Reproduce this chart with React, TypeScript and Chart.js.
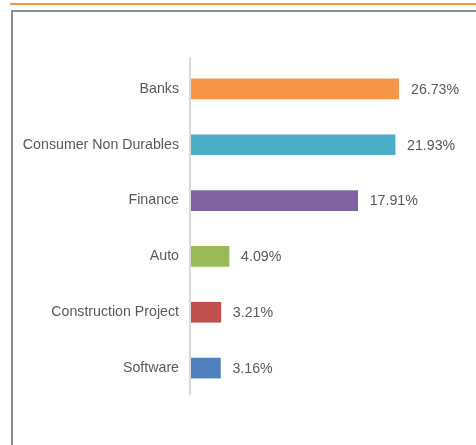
import React, { useEffect, useRef } from "react";
import { Chart, registerables } from "chart.js";

Chart.register(...registerables);

const categories = [
  "Banks",
  "Consumer Non Durables",
  "Finance",
  "Auto",
  "Construction Project",
  "Software",
];
const values = [26.73, 21.93, 17.91, 4.09, 3.21, 3.16];
const valueLabels = ["26.73%", "21.93%", "17.91%", "4.09%", "3.21%", "3.16%"];
const barColors = ["#F79646", "#4BACC6", "#8064A2", "#9BBB59", "#C0504D", "#4F81BD"];
const axisMax = 22.35;

const FONT = "'Liberation Sans', Arial, sans-serif";
const TEXT = "#595959";
const FONT_SIZE = 14.2;

const labelPlugin = {
  id: "valueLabels",
  afterDatasetsDraw(chart: any) {
    const { ctx, chartArea } = chart;
    const meta = chart.getDatasetMeta(0);
    ctx.save();
    ctx.font = `${FONT_SIZE}px ${FONT}`;
    ctx.fillStyle = TEXT;
    ctx.textAlign = "left";
    ctx.textBaseline = "middle";
    meta.data.forEach((bar: any, i: number) => {
      const x = Math.min(bar.x, chartArea.right) + 12;
      ctx.fillText(valueLabels[i], x, bar.y + 1);
    });
    ctx.restore();
  },
};

const axisLinePlugin = {
  id: "axisLine",
  beforeDatasetsDraw(chart: any) {
    const { ctx, chartArea } = chart;
    ctx.save();
    ctx.strokeStyle = "#D9D9D9";
    ctx.lineWidth = 2;
    ctx.beginPath();
    ctx.moveTo(chartArea.left - 1, chartArea.top - 4);
    ctx.lineTo(chartArea.left - 1, chartArea.bottom - 1);
    ctx.stroke();
    ctx.restore();
  },
};

export default function App() {
  const canvasRef = useRef<HTMLCanvasElement | null>(null);

  useEffect(() => {
    document.body.style.margin = "0";
    const canvas = canvasRef.current;
    if (!canvas) return;
    const chart = new Chart(canvas, {
      type: "bar",
      data: {
        labels: categories,
        datasets: [
          {
            data: values,
            backgroundColor: barColors,
            barThickness: 20,
          },
        ],
      },
      options: {
        indexAxis: "y",
        animation: false,
        responsive: false,
        maintainAspectRatio: false,
        layout: { padding: { left: 0, right: 77, top: 61, bottom: 49 } },
        plugins: {
          legend: { display: false },
          tooltip: { enabled: false },
        },
        scales: {
          x: {
            display: false,
            min: 0,
            max: axisMax,
          },
          y: {
            afterFit: (scale: any) => {
              scale.width = 191;
            },
            grid: { display: false, drawTicks: false },
            border: { display: false },
            ticks: {
              padding: 12,
              color: TEXT,
              font: { family: FONT, size: FONT_SIZE },
            },
          },
        },
      },
      plugins: [labelPlugin, axisLinePlugin],
    });
    return () => chart.destroy();
  }, []);

  return (
    <div style={{ position: "relative", width: 476, height: 445, background: "#fff", overflow: "hidden" }}>
      <div
        style={{
          position: "absolute",
          left: 10,
          top: 3,
          width: 466,
          height: 2,
          background: "#F79646",
        }}
      />
      <div
        style={{
          position: "absolute",
          left: 11,
          top: 10,
          width: 480,
          height: 460,
          borderLeft: "2px solid #8C8C8C",
          borderTop: "2px solid #8C8C8C",
          boxSizing: "border-box",
        }}
      />
      <canvas
        ref={canvasRef}
        width={476}
        height={445}
        style={{ position: "absolute", left: 0, top: 0, width: 476, height: 445 }}
      />
    </div>
  );
}
